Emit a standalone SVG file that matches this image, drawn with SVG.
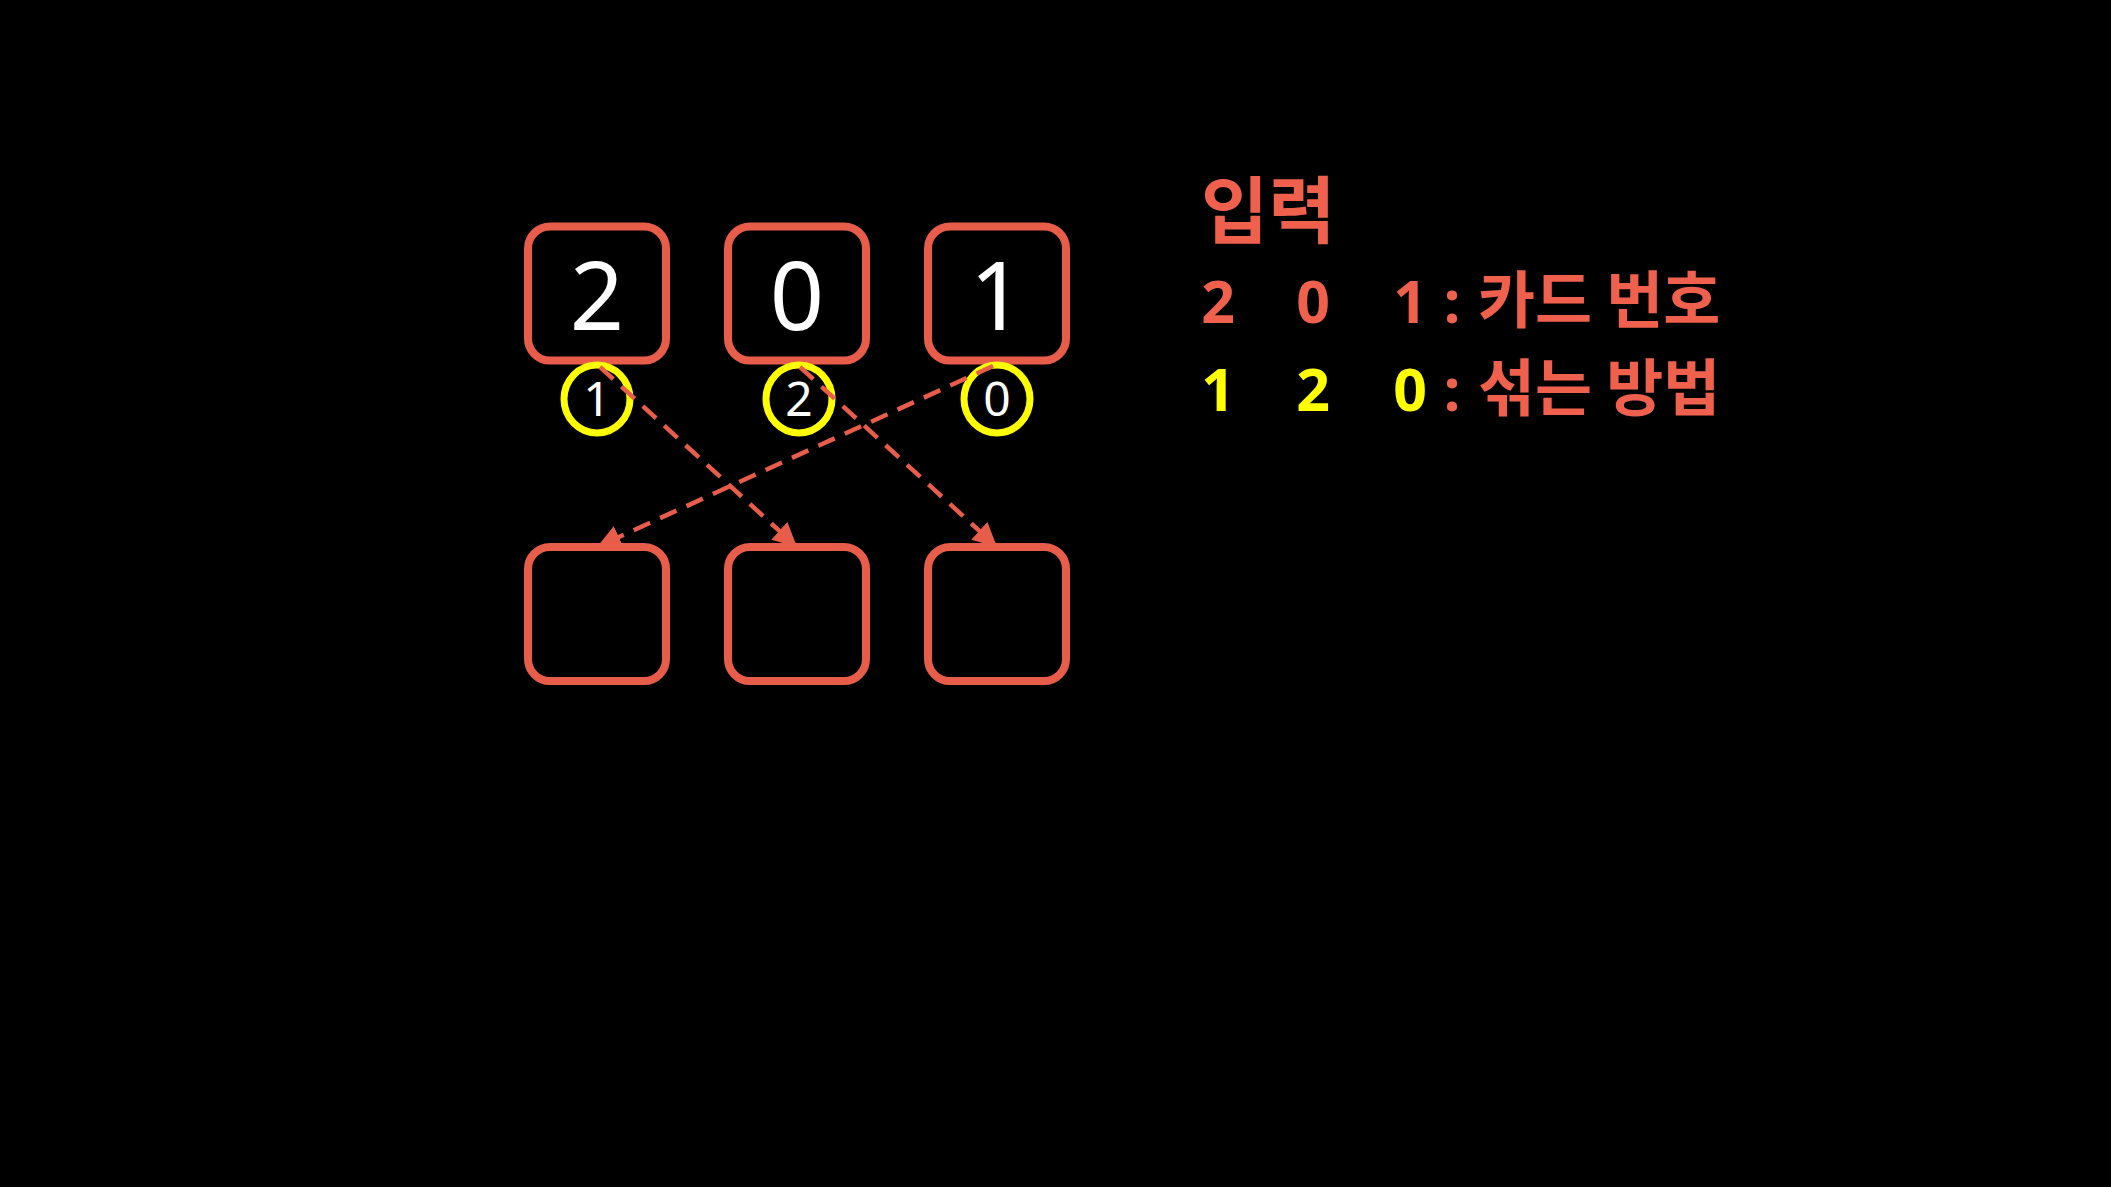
<svg xmlns="http://www.w3.org/2000/svg" width="2111" height="1187" viewBox="0 0 2111 1187">
<style>
.box{fill:#000;stroke:#E85D4A;stroke-width:8}
.ring{fill:none;stroke:#FFFF00;stroke-width:7}
.big{font-family:"Noto Sans","Open Sans",sans-serif;font-size:95px;fill:#fff;text-anchor:middle}
.small{font-family:"Noto Sans","Open Sans",sans-serif;font-size:48px;fill:#fff;text-anchor:middle}
.conn{fill:none;stroke:#E85D4A;stroke-width:4.5;stroke-dasharray:18 11}
.kr{font-family:"Noto Sans CJK KR","Noto Sans",sans-serif;font-weight:700;fill:#EF604D}
.num{font-family:"Noto Sans","Noto Sans CJK KR",sans-serif;font-weight:700;font-size:59px;text-anchor:middle}
.red{fill:#EF604D}
.yel{fill:#FFFF00}
</style>
<defs>
<marker id="ah" viewBox="0 0 10 10" refX="10" refY="5" markerWidth="24" markerHeight="24" markerUnits="userSpaceOnUse" orient="auto">
<path d="M0,0 L10,5 L0,10 z" fill="#E85D4A"/>
</marker>
</defs>
<rect x="0" y="0" width="2111" height="1187" fill="#000"/>
<g id="card-top-1"><rect class="box" x="528" y="226.5" width="138" height="134" rx="22"/><text class="big" x="597" y="330">2</text></g>
<g id="card-top-2"><rect class="box" x="728" y="226.5" width="138" height="134" rx="22"/><text class="big" x="797" y="330">0</text></g>
<g id="card-top-3"><rect class="box" x="928" y="226.5" width="138" height="134" rx="22"/><text class="big" x="997" y="330">1</text></g>
<g id="order-1"><ellipse class="ring" cx="597" cy="399" rx="33" ry="34"/><text class="small" x="597" y="416">1</text></g>
<g id="order-2"><ellipse class="ring" cx="799" cy="399" rx="33" ry="34"/><text class="small" x="799" y="416">2</text></g>
<g id="order-3"><ellipse class="ring" cx="997" cy="399" rx="33" ry="34"/><text class="small" x="997" y="416">0</text></g>
<g id="connectors">
<line class="conn" x1="600" y1="367" x2="797" y2="547" marker-end="url(#ah)"/>
<line class="conn" x1="800" y1="367" x2="997" y2="547" marker-end="url(#ah)"/>
<line class="conn" x1="993" y1="366" x2="597" y2="547" marker-end="url(#ah)"/>
</g>
<g id="card-bottom-1"><rect class="box" x="528" y="547" width="138" height="134" rx="22"/></g>
<g id="card-bottom-2"><rect class="box" x="728" y="547" width="138" height="134" rx="22"/></g>
<g id="card-bottom-3"><rect class="box" x="928" y="547" width="138" height="134" rx="22"/></g>
<g id="legend">
<text class="kr" x="1201" y="237" font-size="73">입력</text>
<text class="num red" x="1218" y="323">2</text>
<text class="num red" x="1313" y="323">0</text>
<text class="num red" x="1410" y="323">1</text>
<text class="num red" x="1452" y="323">:</text>
<text class="kr" x="1478" y="323" font-size="62">카드 번호</text>
<text class="num yel" x="1218" y="411">1</text>
<text class="num yel" x="1313" y="411">2</text>
<text class="num yel" x="1410" y="411">0</text>
<text class="num red" x="1452" y="411">:</text>
<text class="kr" x="1478" y="411" font-size="62">섞는 방법</text>
</g>
</svg>
